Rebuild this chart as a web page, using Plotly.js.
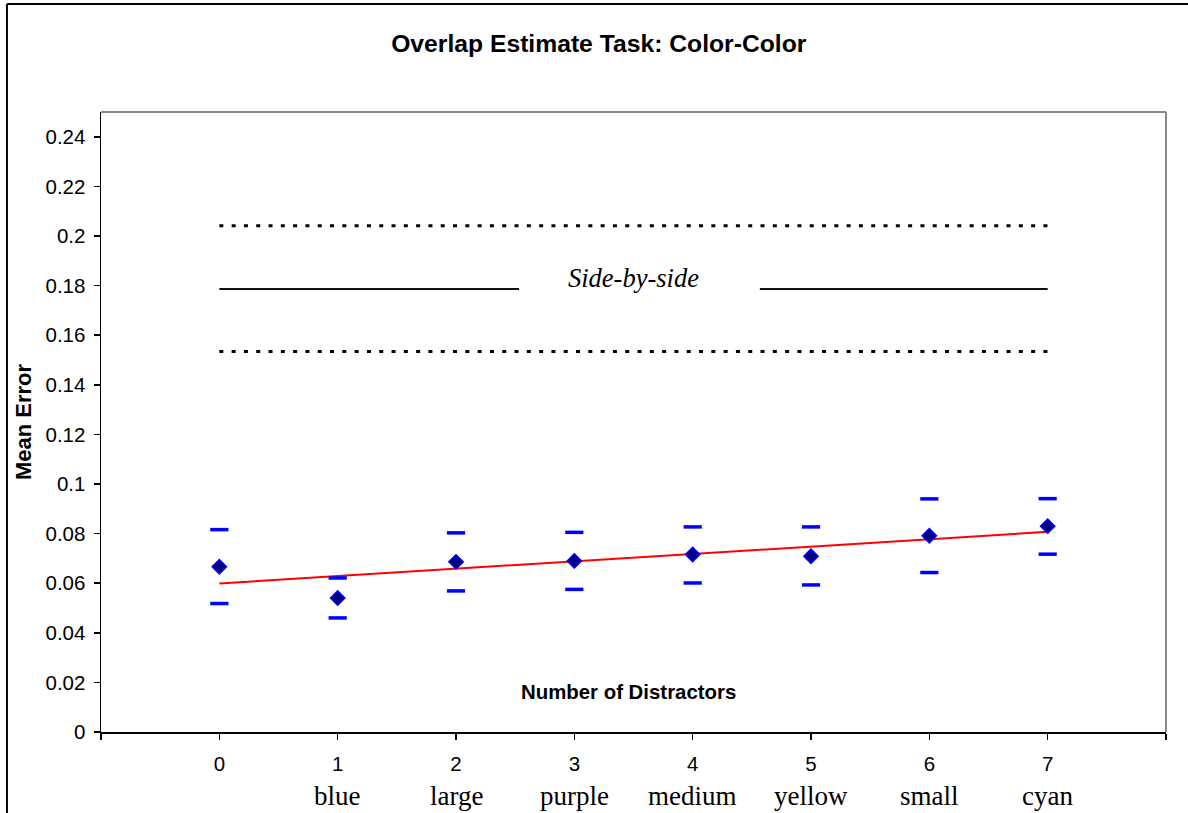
<!DOCTYPE html>
<html>
<head>
<meta charset="utf-8">
<script src="https://cdn.plot.ly/plotly-3.0.1.min.js"></script>
<style>html,body{margin:0;padding:0;background:#fff}#chart{width:1188px;height:813px}</style>
</head>
<body>
<div id="chart"></div>
<script>
// ---- data ----
var xVals = [0, 1, 2, 3, 4, 5, 6, 7];
var tickLabels = ['0', '1', '2', '3', '4', '5', '6', '7'];
var categories = ['', 'blue', 'large', 'purple', 'medium', 'yellow', 'small', 'cyan'];
var meanErr  = [0.0666, 0.0540, 0.0686, 0.0690, 0.0716, 0.0709, 0.0791, 0.0830];
var upperCap = [0.0816, 0.0621, 0.0803, 0.0805, 0.0827, 0.0827, 0.0940, 0.0941];
var lowerCap = [0.0518, 0.0460, 0.0569, 0.0575, 0.0601, 0.0593, 0.0643, 0.0717];
var trendX = [0, 7];
var trendY = [0.0599, 0.0807];
var sbsX = [0, 7];
var sbsUpper = 0.2041;
var sbsMean = 0.1786;
var sbsLower = 0.1534;
var sbsLeftX = [0, 2.533];
var sbsRightX = [4.568, 7];
var sbsLabel = 'Side-by-side';
var yTickVals = [0, 0.02, 0.04, 0.06, 0.08, 0.1, 0.12, 0.14, 0.16, 0.18, 0.2, 0.22, 0.24];
var yTickText = ['0', '0.02', '0.04', '0.06', '0.08', '0.1', '0.12', '0.14', '0.16', '0.18', '0.2', '0.22', '0.24'];

var SANS = 'Liberation Sans, Arial, sans-serif';
var SERIF = 'Liberation Serif, Times New Roman, serif';

var traces = [
  {x: sbsX, y: [sbsUpper, sbsUpper], mode: 'lines', line: {color: '#000', width: 3, dash: '4px,8.3px'}, hoverinfo: 'skip'},
  {x: sbsX, y: [sbsLower, sbsLower], mode: 'lines', line: {color: '#000', width: 3, dash: '4px,8.3px'}, hoverinfo: 'skip'},
  {x: sbsLeftX, y: [sbsMean, sbsMean], mode: 'lines', line: {color: '#111', width: 2}, hoverinfo: 'skip'},
  {x: sbsRightX, y: [sbsMean, sbsMean], mode: 'lines', line: {color: '#111', width: 2}, hoverinfo: 'skip'},
  {x: trendX, y: trendY, mode: 'lines', line: {color: '#ff0000', width: 2}},
  {x: xVals, y: upperCap, mode: 'markers', marker: {symbol: 'line-ew', size: 13, line: {color: '#0000ff', width: 3.5}}},
  {x: xVals, y: lowerCap, mode: 'markers', marker: {symbol: 'line-ew', size: 13, line: {color: '#0000ff', width: 3.5}}},
  {x: xVals, y: meanErr, mode: 'markers', marker: {symbol: 'diamond', size: 11, color: '#000080', line: {color: '#0000ff', width: 1.5}}}
];

var annotations = [];
for (var i = 0; i < xVals.length; i++) {
  if (categories[i]) {
    annotations.push({x: xVals[i], y: -0.103, xref: 'x', yref: 'paper', text: categories[i], showarrow: false,
      xanchor: 'center', yanchor: 'middle', font: {family: SERIF, size: 27, color: '#000'}});
  }
}
annotations.push({x: 3.5, y: sbsMean + 0.0046, xref: 'x', yref: 'y', text: '<i>' + sbsLabel + '</i>', showarrow: false,
  xanchor: 'center', yanchor: 'middle', font: {family: SERIF, size: 26.5, color: '#000'}});
annotations.push({x: 3.46, y: 0.0161, xref: 'x', yref: 'y', text: '<b>Number of Distractors</b>', showarrow: false,
  xanchor: 'center', yanchor: 'middle', font: {family: SANS, size: 20.4, color: '#000'}});

var layout = {
  width: 1188, height: 813,
  margin: {l: 101, r: 22, t: 112, b: 81},
  paper_bgcolor: '#fff', plot_bgcolor: '#fff',
  showlegend: false,
  title: {text: '<b>Overlap Estimate Task: Color-Color</b>', x: 0.504, xanchor: 'center', y: 0.947, yanchor: 'middle',
    font: {family: SANS, size: 24.7, color: '#000'}},
  xaxis: {
    range: [-1, 8], tickmode: 'array', tickvals: [-1].concat(xVals).concat([8]), ticktext: [''].concat(tickLabels).concat(['']),
    showgrid: false, zeroline: false, showline: true, linecolor: '#000', linewidth: 1.5,
    ticks: 'outside', ticklen: 6, tickwidth: 1.5, tickcolor: '#000',
    ticklabelstandoff: 7,
    tickfont: {family: SANS, size: 20.5, color: '#000'}
  },
  yaxis: {
    range: [0, 0.25], tickmode: 'array', tickvals: yTickVals, ticktext: yTickText,
    showgrid: false, zeroline: false, showline: true, linecolor: '#000', linewidth: 1.5,
    ticks: 'outside', ticklen: 6, tickwidth: 1.5, tickcolor: '#000',
    ticklabelstandoff: 4,
    tickfont: {family: SANS, size: 20.5, color: '#000'},
    title: {text: '<b>Mean Error</b>', font: {family: SANS, size: 22, color: '#000'}, standoff: 8}
  },
  annotations: annotations,
  shapes: [
    {type: 'line', xref: 'paper', yref: 'paper', x0: 0, x1: 1, y0: 1, y1: 1, line: {color: '#888', width: 2}},
    {type: 'line', xref: 'paper', yref: 'paper', x0: 1, x1: 1, y0: 0, y1: 1, line: {color: '#888', width: 2}},
    {type: 'line', xref: 'paper', yref: 'paper', x0: -0.0883, x1: -0.0883, y0: -0.2, y1: 1.174, line: {color: '#000', width: 2}},
    {type: 'line', xref: 'paper', yref: 'paper', x0: -0.0883, x1: 1.1, y0: 1.174, y1: 1.174, line: {color: '#000', width: 2}}
  ]
};

Plotly.newPlot('chart', traces, layout, {displayModeBar: false, staticPlot: true});
</script>
</body>
</html>
